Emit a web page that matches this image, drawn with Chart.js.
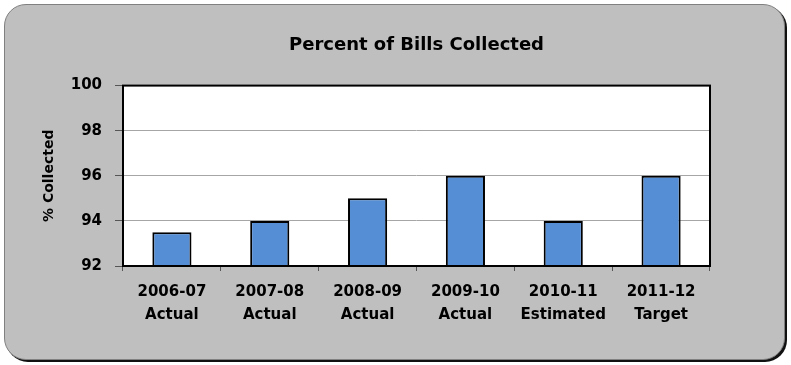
<!DOCTYPE html>
<html>
<head>
<meta charset="utf-8">
<script src="https://cdn.jsdelivr.net/npm/chart.js@4/dist/chart.umd.min.js"></script>
<style>
  body { margin: 0; background: #fff; }
  #wrap { position: relative; width: 791px; height: 365px; }
  #frame {
    position: absolute; left: 4px; top: 4px; width: 779px; height: 354px;
    background: #bfbfbf; border: 1px solid #808080; border-radius: 22px;
    box-shadow: 2px 2px 0 #111;
  }
  #chart { position: absolute; left: 0; top: 0; }
</style>
</head>
<body>
<div id="wrap">
  <div id="frame"></div>
  <canvas id="chart" width="791" height="365"></canvas>
</div>
<script>
const years = ["2006-07", "2007-08", "2008-09", "2009-10", "2010-11", "2011-12"];
const kinds = ["Actual", "Actual", "Actual", "Actual", "Estimated", "Target"];
const collected = [93.5, 94, 95, 96, 94, 96];
const yTicks = [92, 94, 96, 98, 100];

const FONT = "'DejaVu Sans', sans-serif";

// white plot area with a black frame around it
const plotFrame = {
  id: "plotFrame",
  beforeDraw(chart) {
    const { ctx, chartArea: a } = chart;
    ctx.save();
    ctx.fillStyle = "#fff";
    ctx.fillRect(a.left, a.top, a.right - a.left, a.bottom - a.top);
    ctx.restore();
  },
  afterDraw(chart) {
    const { ctx, chartArea: a } = chart;
    ctx.save();
    ctx.strokeStyle = "#000";
    ctx.lineWidth = 2;
    ctx.strokeRect(a.left, a.top, a.right - a.left, a.bottom - a.top);
    ctx.restore();
  },
};

new Chart(document.getElementById("chart"), {
  type: "bar",
  data: {
    labels: years.map((y, i) => [y, kinds[i]]),
    datasets: [
      {
        data: collected,
        backgroundColor: "#558ed5",
        borderColor: "#000",
        borderWidth: 2,
        barPercentage: 0.4,
        categoryPercentage: 1,
      },
    ],
  },
  options: {
    responsive: false,
    animation: false,
    layout: { padding: { left: 0, right: 81, top: 0, bottom: 0 } },
    plugins: {
      legend: { display: false },
      tooltip: { enabled: false },
      title: {
        display: true,
        text: "Percent of Bills Collected",
        color: "#000",
        fullSize: false,
        font: { family: FONT, size: 18, weight: "bold", lineHeight: 1.2 },
        padding: { top: 35, bottom: 29 },
      },
    },
    scales: {
      x: {
        afterFit(scale) { scale.height = 99; },
        grid: {
          drawOnChartArea: false,
          tickLength: 5,
          tickColor: "#555",
        },
        border: { display: false },
        ticks: {
          color: "#000",
          padding: 10,
          maxRotation: 0,
          font: { family: FONT, size: 15, weight: "bold", lineHeight: 1.5 },
        },
      },
      y: {
        min: 92,
        max: 100,
        afterFit(scale) { scale.width = 123; },
        afterBuildTicks(scale) { scale.ticks = yTicks.map((v) => ({ value: v })); },
        grid: { color: "#a6a6a6", tickLength: 8, tickColor: "#555" },
        border: { display: false },
        ticks: {
          color: "#000",
          padding: 13,
          font: { family: FONT, size: 15, weight: "bold" },
        },
        title: {
          display: true,
          text: "% Collected",
          color: "#000",
          font: { family: FONT, size: 14, weight: "bold", lineHeight: 1.2 },
          padding: { top: 41, bottom: 0 },
        },
      },
    },
  },
  plugins: [plotFrame],
});
</script>
</body>
</html>
